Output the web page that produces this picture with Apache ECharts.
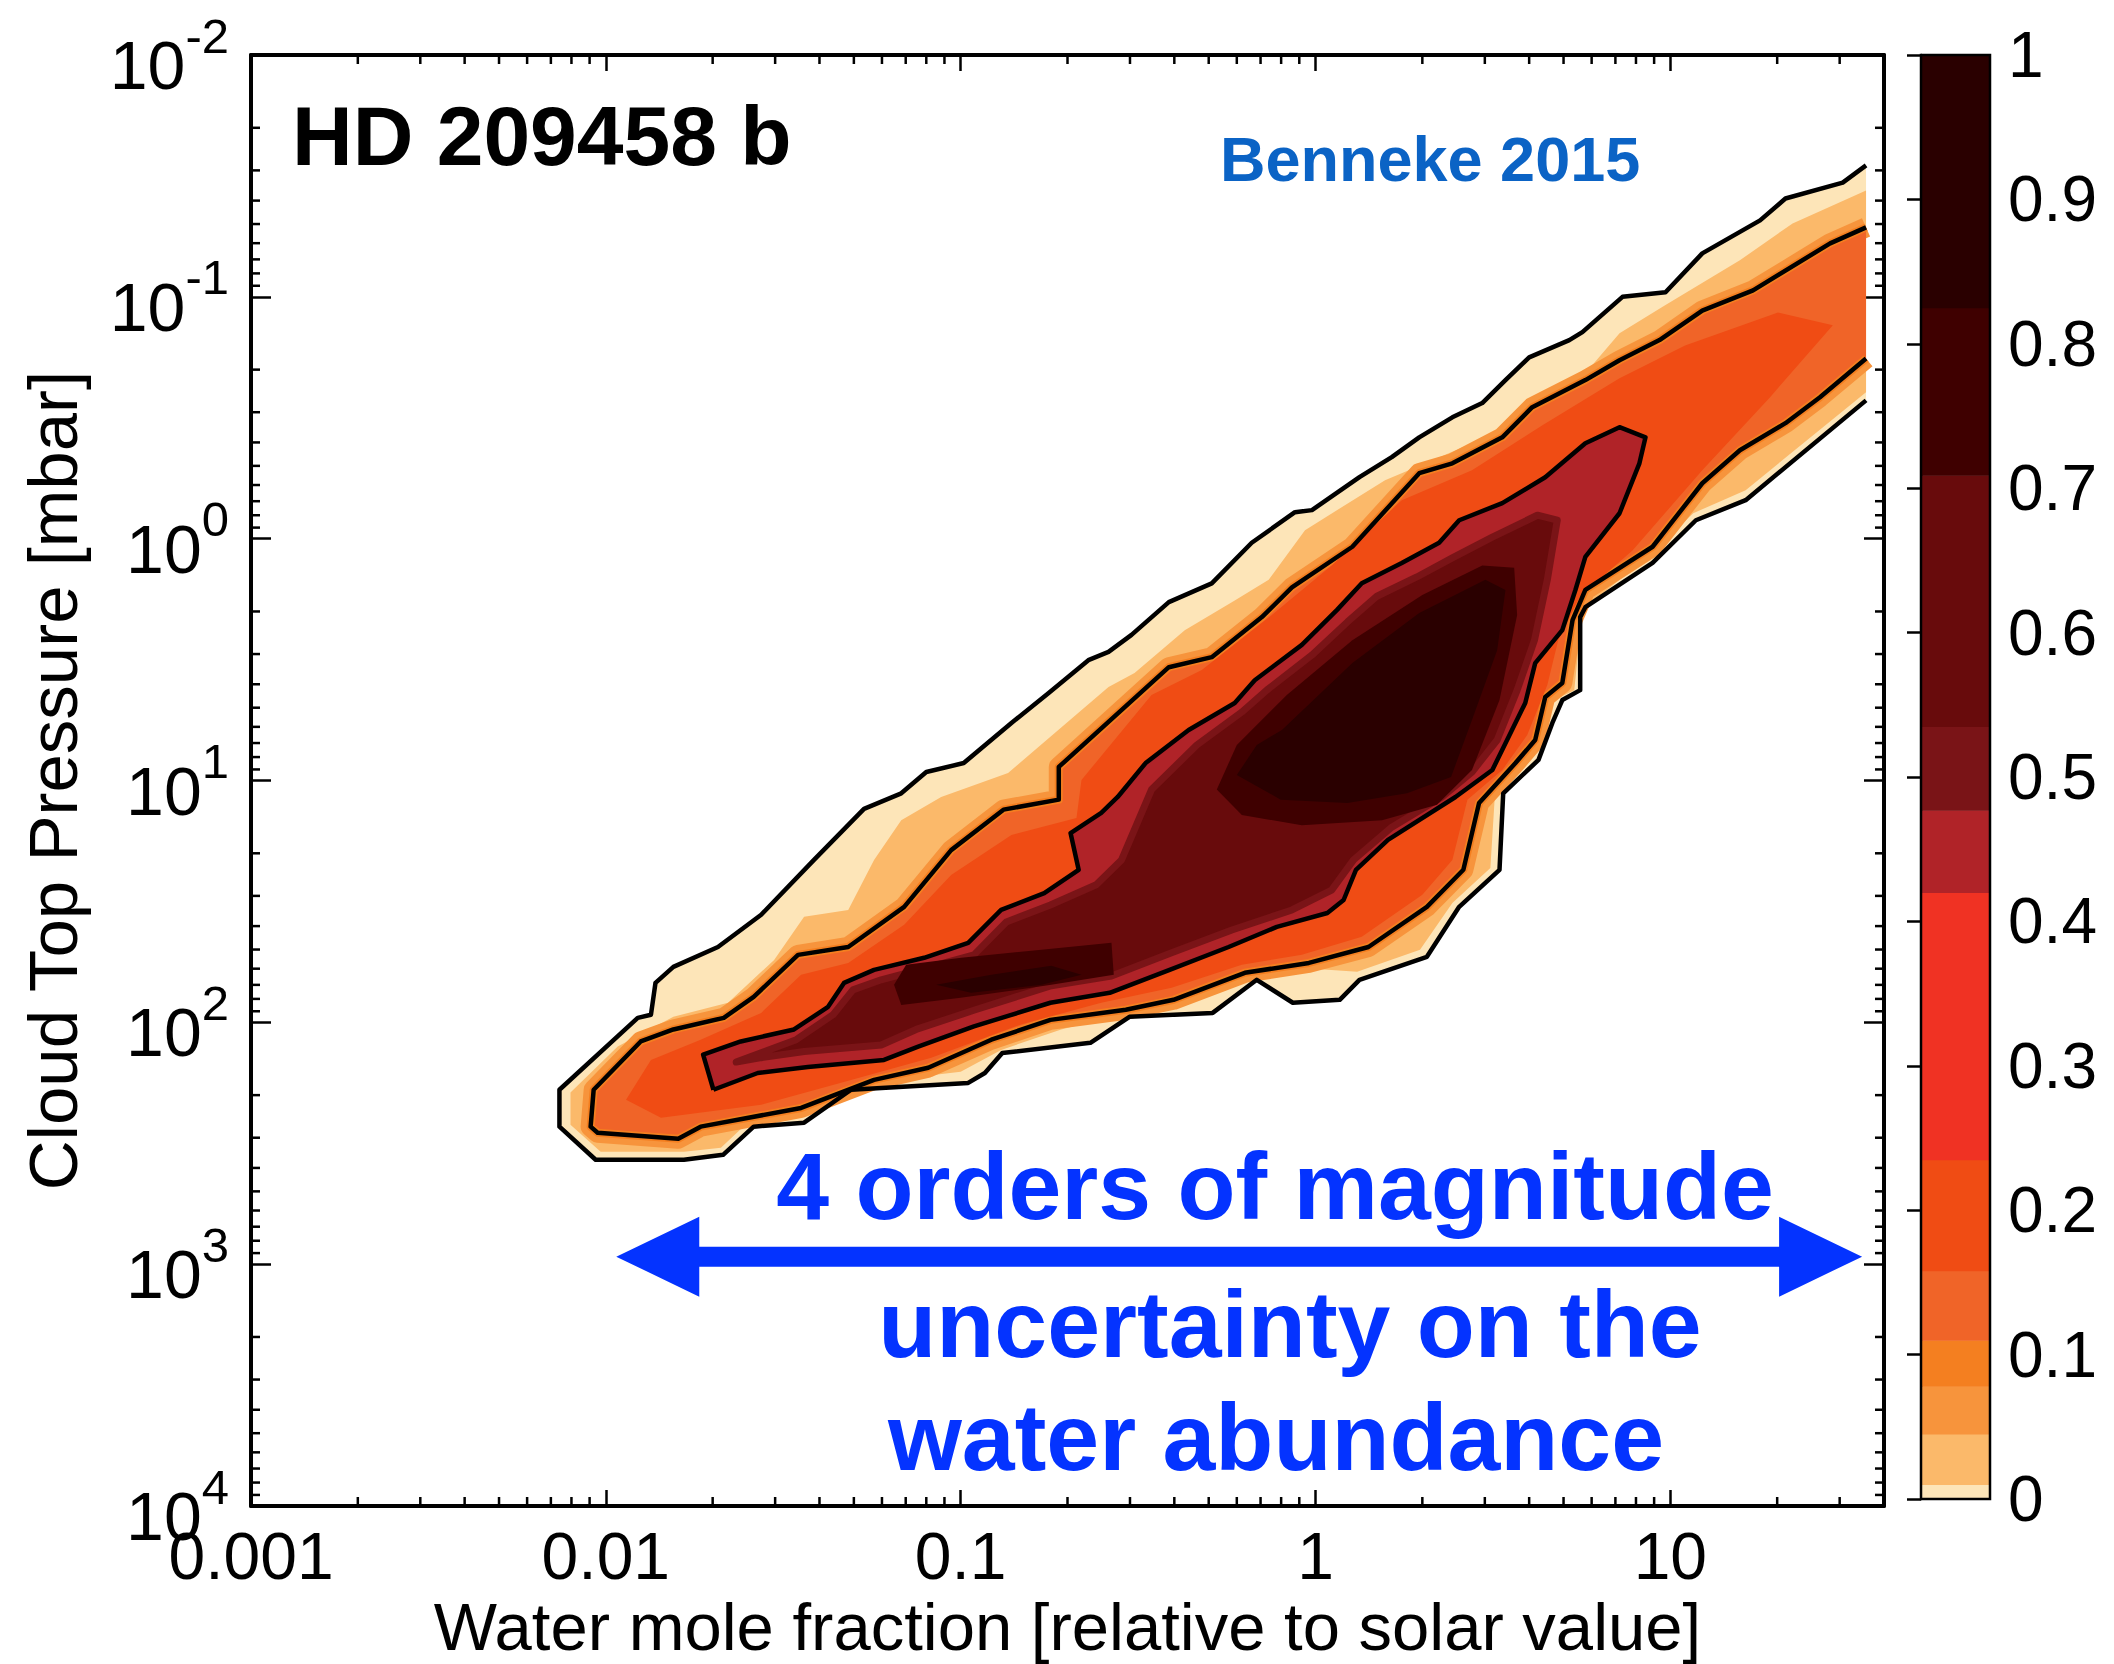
<!DOCTYPE html>
<html><head><meta charset="utf-8">
<script src="https://cdn.jsdelivr.net/npm/echarts@6/dist/echarts.min.js"></script>
<style>html,body{margin:0;padding:0;background:#fff}#c{width:2114px;height:1664px}</style>
</head><body><div id="c"></div>
<script>
// ---------- DATA (water mole fraction [x solar], cloud-top pressure [mbar]) ----------
const xTickValues = [0.001, 0.01, 0.1, 1, 10];
const yTickValues = [0.01, 0.1, 1, 10, 100, 1000, 10000];

// outermost contour (lowest probability level) : upper edge left->right, lower edge right->left
const outerUpper = [[0.0074,270],[0.0074,190],[0.0123,95.8],[0.0134,93],[0.0138,68.7],[0.0155,59],[0.0207,48.8],[0.0274,35.9],[0.0386,21.3],[0.0534,13.1],[0.068,11.3],[0.080,9.22],[0.102,8.47],[0.139,5.78],[0.177,4.35],[0.229,3.18],[0.261,2.94],[0.303,2.50],[0.386,1.83],[0.51,1.53],[0.661,1.04],[0.875,0.777],[0.977,0.762],[1.33,0.557],[1.64,0.46],[1.96,0.381],[2.43,0.315],[2.95,0.275],[3.43,0.221],[4.00,0.178],[5.19,0.151],[5.65,0.140],[7.33,0.10],[9.69,0.0958],[12.3,0.0661],[17.9,0.0483],[21.1,0.0392],[30.6,0.0337],[35.6,0.0286]];
const outerLower = [[35.6,0.268],[16.3,0.693],[11.8,0.839],[8.91,1.26],[5.76,1.92],[5.57,2.11],[5.57,4.23],[4.96,4.65],[4.65,5.78],[4.25,8.22],[3.38,11.3],[3.30,23.4],[2.54,33.3],[2.06,53.6],[1.33,66.7],[1.17,80.7],[0.863,83],[0.683,66.7],[0.513,91.4],[0.299,94.9],[0.232,121.5],[0.131,134],[0.117,162],[0.105,178],[0.0491,190],[0.0362,260],[0.0261,270],[0.0214,353],[0.0166,370],[0.00936,370]];

// second filled level (light orange)
const lightUpper = [[0.00795,195],[0.0108,126],[0.0155,94.9],[0.0221,83],[0.0298,55.2],[0.0362,36.6],[0.0482,34.3],[0.057,21.3],[0.068,14.6],[0.0881,11.7],[0.136,9.31],[0.261,4.11],[0.309,3.59],[0.428,2.39],[0.592,1.80],[0.738,1.48],[0.934,0.922],[1.57,0.573],[2.04,0.488],[3.36,0.356],[4.16,0.26],[5.76,0.207],[7.19,0.1415],[9.51,0.11],[15.7,0.0706],[22.1,0.0497],[35.6,0.0363]];
const lightLower = [[35.6,0.248],[16.3,0.63],[11.6,0.785],[8.62,1.19],[5.65,1.97],[5.36,4.23],[4.71,4.65],[4.08,8.0],[3.21,10.9],[3.11,23],[2.43,32.1],[1.97,50.1],[1.31,61.8],[0.915,59.6],[0.62,64],[0.398,84.7],[0.292,91.4],[0.192,107],[0.13,130],[0.1,160],[0.0491,181],[0.0355,241],[0.0256,253],[0.0211,330],[0.0166,343],[0.00967,343],[0.00795,265]];

// middle contour line
const middleUpper = [[0.00906,270],[0.00924,190],[0.01254,120],[0.0155,107],[0.0215,95.8],[0.0261,78.5],[0.0348,52.6],[0.0482,48.8],[0.0693,33.3],[0.094,19.4],[0.132,13.2],[0.189,12.0],[0.189,8.79],[0.386,3.40],[0.51,3.09],[0.706,2.11],[0.858,1.59],[1.27,1.08],[1.96,0.536],[2.43,0.488],[3.36,0.381],[4.08,0.286],[5.76,0.221],[7.19,0.183],[9.32,0.151],[12.3,0.114],[17.1,0.094],[28.2,0.0601],[35.6,0.0516]];
const middleLower = [[35.6,0.18],[26.4,0.26],[21.1,0.333],[15.7,0.431],[12.3,0.59],[8.91,1.08],[5.76,1.63],[5.30,2.17],[4.96,3.95],[4.44,4.52],[4.16,6.80],[3.66,8.47],[2.89,12.4],[2.61,23.4],[2.06,33.3],[1.41,48.8],[0.958,56.8],[0.632,62.4],[0.398,80.7],[0.292,88.7],[0.179,97.7],[0.122,118],[0.081,154],[0.057,173],[0.0355,226],[0.0185,270],[0.016,303],[0.00948,286]];

// core of the orange-red level
const coreOrange = [[28.7,0.131],[20.1,0.116],[11.0,0.159],[7.19,0.217],[4.36,0.34],[2.76,0.521],[1.75,0.693],[1.11,1.29],[0.753,2.07],[0.478,3.49],[0.345,4.43],[0.219,9.95],[0.212,14.3],[0.139,16.8],[0.094,24.6],[0.0693,39.5],[0.0482,56.8],[0.0355,63.6],[0.0274,91.4],[0.0185,118],[0.0134,143],[0.0114,209],[0.0143,248],[0.0274,219],[0.0491,173],[0.0826,140],[0.148,102],[0.249,83],[0.393,72],[0.62,57.8],[0.915,52.6],[1.35,44.3],[2.0,29.7],[2.43,21.3],[2.68,12.0],[3.36,9.05],[3.95,6.49],[4.50,4.03],[4.83,2.63],[5.57,1.73],[7.82,1.12],[12.3,0.521],[19.1,0.26]];

// inner contour line (closed)
const innerContour = [[0.0201,190],[0.0188,136],[0.024,120],[0.0339,107],[0.0423,86.3],[0.0469,68.7],[0.057,60.7],[0.0789,54.1],[0.105,46.9],[0.130,34.3],[0.172,29.2],[0.215,23.4],[0.204,16.5],[0.249,13.6],[0.277,11.7],[0.332,8.47],[0.439,6.18],[0.592,4.78],[0.674,3.85],[0.915,2.75],[1.15,1.97],[1.35,1.53],[1.75,1.26],[2.23,1.04],[2.54,0.839],[3.36,0.713],[4.44,0.557],[5.76,0.403],[7.19,0.346],[8.51,0.381],[8.18,0.488],[7.19,0.785],[5.76,1.19],[5.40,1.63],[4.96,2.39],[4.16,3.27],[3.90,4.78],[3.15,9.05],[2.48,11.7],[1.60,17.6],[1.30,23.4],[1.20,31.2],[1.08,35.3],[0.778,40.3],[0.569,48.8],[0.388,60.7],[0.263,75.5],[0.179,83],[0.109,104],[0.0759,126],[0.0608,143],[0.0371,153],[0.0268,162]];

// dark red level inside the inner contour
const darkRed = [[0.0233,146],[0.0344,118],[0.0437,93],[0.0497,73.4],[0.0597,66.7],[0.080,59.6],[0.109,52.6],[0.1345,38.5],[0.179,32.7],[0.241,27.0],[0.284,21.3],[0.345,10.9],[0.463,7.13],[0.62,5.21],[0.729,4.23],[0.977,3.03],[1.23,2.21],[1.49,1.73],[1.93,1.44],[2.43,1.20],[3.15,0.986],[4.22,0.80],[4.80,0.839],[4.50,1.48],[4.14,2.63],[3.70,4.23],[3.25,6.80],[2.76,9.22],[2.27,11.7],[1.64,15.6],[1.28,21.3],[1.11,28.4],[0.858,34.3],[0.581,41.5],[0.393,51.6],[0.266,64.3],[0.18,70.6],[0.11,88.7],[0.0749,107],[0.0597,124],[0.0362,132],[0.0274,140]];

// highest-probability cores
const peakOuter = [[0.527,10.9],[0.60,7.13],[0.83,4.43],[1.27,2.63],[2.0,1.71],[2.95,1.29],[3.63,1.32],[3.70,2.07],[3.30,4.65],[2.76,9.05],[2.20,12.6],[1.54,14.6],[0.915,15.3],[0.62,13.9]];
const peakInner = [[0.804,6.18],[1.27,3.27],[1.96,2.03],[3.01,1.48],[3.43,1.63],[3.25,2.89],[2.76,5.62],[2.41,9.67],[1.81,11.3],[1.23,12.4],[0.798,12.0],[0.60,9.49],[0.683,7.13]];
const smallPeakOuter = [[0.0649,70],[0.0702,57.8],[0.1004,54.1],[0.169,50.1],[0.266,46.9],[0.27,63.6],[0.18,70],[0.1,79.2],[0.068,84.7]];
const smallPeakInner = [[0.0853,70],[0.122,63.6],[0.18,58.4],[0.219,63.6],[0.169,70],[0.107,75.5]];

// arrow annotation end points
const arrowFrom = [0.0107, 931];
const arrowTo = [34.7, 931];

// colour bar
const colorLevels = [0, 0.01, 0.045, 0.078, 0.11, 0.158, 0.235, 0.42, 0.477, 0.535, 0.709, 0.825, 1];
const colorBands = ['#fde5b8','#fbb96a','#f7943c','#f47f20','#f06428','#f04c14','#f03223','#b02328','#7a1417','#680b0c','#3f0000','#2a0000'];

// ---------- CHART ----------
const FONT = "'Liberation Sans', Arial, Helvetica, sans-serif";
const chart = echarts.init(document.getElementById('c'), null, {renderer: 'svg', width: 2114, height: 1664});

function isPow10(v) { const l = Math.log10(v); return Math.abs(l - Math.round(l)) < 1e-6; }

function shapeSeries(pts, style, closed) {
  return {
    type: 'custom', coordinateSystem: 'cartesian2d', xAxisIndex: 0, yAxisIndex: 0,
    silent: true, animation: false, clip: true,
    data: [pts[0]],
    renderItem: function (params, api) {
      return {
        type: closed ? 'polygon' : 'polyline',
        shape: { points: pts.map(function (p) { return api.coord(p); }) },
        style: Object.assign({}, style)
      };
    }
  };
}

const minorX = [];
for (let n = -3; n <= 1; n++) for (let k = 2; k <= 9; k++) { const v = k * Math.pow(10, n); if (v < 40) minorX.push(v); }
const minorY = [];
for (let n = -2; n <= 3; n++) for (let k = 2; k <= 9; k++) minorY.push(k * Math.pow(10, n));

const outerPoly = outerUpper.concat(outerLower);
const outerLine = outerLower.concat(outerUpper);
const lightPoly = lightUpper.concat(lightLower);
const middlePoly = middleUpper.concat(middleLower);
const middleLine = middleLower.concat(middleUpper);

const lineStyleBlack = { fill: 'none', stroke: '#000', lineWidth: 4.5, lineJoin: 'round' };

const series = [
  shapeSeries(outerPoly, { fill: colorBands[0] }, true),
  shapeSeries(lightPoly, { fill: colorBands[1] }, true),
  shapeSeries(middleLine, { fill: 'none', stroke: colorBands[2], lineWidth: 20, lineJoin: 'round' }, false),
  shapeSeries(middlePoly, { fill: colorBands[4] }, true),
  shapeSeries(middleLine, { fill: 'none', stroke: colorBands[3], lineWidth: 8, lineJoin: 'round' }, false),
  shapeSeries(coreOrange, { fill: colorBands[5] }, true),
  shapeSeries(innerContour, { fill: colorBands[7] }, true),
  shapeSeries(darkRed, { fill: colorBands[9], stroke: colorBands[8], lineWidth: 7, lineJoin: 'round' }, true),
  shapeSeries(peakOuter, { fill: colorBands[10] }, true),
  shapeSeries(peakInner, { fill: colorBands[11] }, true),
  shapeSeries(smallPeakOuter, { fill: colorBands[10] }, true),
  shapeSeries(smallPeakInner, { fill: colorBands[11] }, true),
  shapeSeries(outerLine, lineStyleBlack, false),
  shapeSeries(middleLine, lineStyleBlack, false),
  shapeSeries(innerContour.concat([innerContour[0]]), lineStyleBlack, false),
  // double-headed arrow
  {
    type: 'custom', xAxisIndex: 0, yAxisIndex: 0, silent: true, clip: false,
    data: [arrowFrom, arrowTo],
    renderItem: function (params, api) {
      if (params.dataIndex !== 0) return null;
      const a = api.coord(arrowFrom), b = api.coord(arrowTo);
      const y = a[1], hl = 83, hh = 40, sh = 10;
      return {
        type: 'polygon',
        shape: { points: [[a[0], y], [a[0] + hl, y - hh], [a[0] + hl, y - sh], [b[0] - hl, y - sh], [b[0] - hl, y - hh], [b[0], y], [b[0] - hl, y + hh], [b[0] - hl, y + sh], [a[0] + hl, y + sh], [a[0] + hl, y + hh]] },
        style: { fill: '#0433ff' }
      };
    }
  },
  // log minor ticks on all four sides
  {
    type: 'custom', xAxisIndex: 0, yAxisIndex: 0, silent: true, clip: false,
    data: [[1, 1]],
    renderItem: function (params, api) {
      const cs = params.coordSys, ch = [], L = 9;
      const st = { stroke: '#000', lineWidth: 2.5 };
      minorX.forEach(function (v) {
        const x = api.coord([v, 1])[0];
        ch.push({ type: 'line', shape: { x1: x, y1: cs.y + cs.height, x2: x, y2: cs.y + cs.height - L }, style: st });
        ch.push({ type: 'line', shape: { x1: x, y1: cs.y, x2: x, y2: cs.y + L }, style: st });
      });
      minorY.forEach(function (v) {
        const y = api.coord([1, v])[1];
        ch.push({ type: 'line', shape: { x1: cs.x, y1: y, x2: cs.x + L, y2: y }, style: st });
        ch.push({ type: 'line', shape: { x1: cs.x + cs.width, y1: y, x2: cs.x + cs.width - L, y2: y }, style: st });
      });
      return { type: 'group', children: ch };
    }
  },
  // colour bar bands
  {
    type: 'custom', xAxisIndex: 2, yAxisIndex: 2, silent: true,
    data: colorBands.map(function (c, i) { return [0, colorLevels[i], colorLevels[i + 1], i]; }),
    encode: { x: 0, y: [1, 2] },
    renderItem: function (params, api) {
      const p0 = api.coord([0, api.value(1)]), p1 = api.coord([1, api.value(2)]);
      return { type: 'rect', shape: { x: p0[0], y: p1[1], width: p1[0] - p0[0], height: p0[1] - p1[1] + 0.5 }, style: { fill: colorBands[api.value(3)] } };
    }
  },
  // colour bar frame
  {
    type: 'custom', xAxisIndex: 2, yAxisIndex: 2, silent: true,
    data: [[0, 0]],
    renderItem: function (params, api) {
      const p0 = api.coord([0, 0]), p1 = api.coord([1, 1]);
      return { type: 'rect', shape: { x: p0[0], y: p1[1], width: p1[0] - p0[0], height: p0[1] - p1[1] }, style: { fill: 'none', stroke: '#000', lineWidth: 2.5 } };
    }
  }
];

const axisLineStyle = { show: true, lineStyle: { color: '#000', width: 4 } };
const xLabelFmt = function (v) {
  if (!isPow10(v)) return '';
  const e = Math.round(Math.log10(v));
  return e >= 0 ? String(Math.round(v)) : v.toFixed(-e);
};
const yLabelFmt = function (v) {
  if (!isPow10(v)) return '';
  return '{h| }{b|10}{s|' + Math.round(Math.log10(v)) + '}';
};
const yRich = {
  h: { fontSize: 1, lineHeight: 88 },
  b: { fontSize: 68, fontFamily: FONT, color: '#000', lineHeight: 68, verticalAlign: 'bottom' },
  s: { fontSize: 49, fontFamily: FONT, color: '#000', lineHeight: 49, verticalAlign: 'top' }
};

const option = {
  backgroundColor: '#ffffff',
  animation: false,
  grid: [
    { left: 251, top: 55, width: 1633, height: 1451, containLabel: false, outerBoundsMode: 'none' },
    { left: 1921, top: 55, width: 69, height: 1444, containLabel: false, outerBoundsMode: 'none' }
  ],
  xAxis: [
    {
      gridIndex: 0, type: 'log', logBase: 10, min: 0.001, max: 40, position: 'bottom',
      name: 'Water mole fraction [relative to solar value]', nameLocation: 'middle', nameGap: 87, nameMoveOverlap: false,
      nameTextStyle: { fontSize: 67, fontFamily: FONT, color: '#000' },
      axisLine: axisLineStyle,
      axisTick: { show: true, inside: true, length: 16, lineStyle: { color: '#000', width: 2.5 } },
      axisLabel: { fontSize: 66, fontFamily: FONT, color: '#000', margin: 17, formatter: xLabelFmt, hideOverlap: false },
      splitLine: { show: false }, minorTick: { show: false }
    },
    {
      gridIndex: 0, type: 'log', logBase: 10, min: 0.001, max: 40, position: 'top',
      axisLine: axisLineStyle,
      axisTick: { show: true, inside: true, length: 16, lineStyle: { color: '#000', width: 2.5 } },
      axisLabel: { show: false }, splitLine: { show: false }
    },
    { gridIndex: 1, type: 'value', min: 0, max: 1, show: false, splitLine: { show: false } }
  ],
  yAxis: [
    {
      gridIndex: 0, type: 'log', logBase: 10, min: 0.01, max: 10000, inverse: true, position: 'left',
      name: 'Cloud Top Pressure [mbar]', nameLocation: 'middle', nameGap: 163, nameRotate: 90, nameMoveOverlap: false,
      nameTextStyle: { fontSize: 69, fontFamily: FONT, color: '#000' },
      axisLine: axisLineStyle,
      axisTick: { show: true, inside: true, length: 20, lineStyle: { color: '#000', width: 2.5 } },
      axisLabel: { margin: 22, formatter: yLabelFmt, rich: yRich, hideOverlap: false },
      splitLine: { show: false }
    },
    {
      gridIndex: 0, type: 'log', logBase: 10, min: 0.01, max: 10000, inverse: true, position: 'right',
      axisLine: axisLineStyle,
      axisTick: { show: true, inside: true, length: 20, lineStyle: { color: '#000', width: 2.5 } },
      axisLabel: { show: false }, splitLine: { show: false }
    },
    {
      gridIndex: 1, type: 'value', min: 0, max: 1, interval: 0.1, position: 'right',
      axisLine: { show: true, lineStyle: { color: '#000', width: 2.5 } },
      axisTick: { show: true, inside: true, length: 14, lineStyle: { color: '#000', width: 2.5 } },
      axisLabel: {
        fontSize: 64, fontFamily: FONT, color: '#000', margin: 18, hideOverlap: false,
        formatter: function (v) { if (Math.abs(v) < 1e-9) return '0'; if (Math.abs(v - 1) < 1e-9) return '1'; return v.toFixed(1); }
      },
      splitLine: { show: false }
    }
  ],
  series: series,
  graphic: [
    { type: 'text', x: 292, y: 136, z: 100, style: { text: 'HD 209458 b', fontSize: 84, fontWeight: 'bold', fontFamily: FONT, fill: '#000', textVerticalAlign: 'middle', verticalAlign: 'middle' } },
    { type: 'text', x: 1220, y: 159, z: 100, style: { text: 'Benneke 2015', fontSize: 63, fontWeight: 'bold', fontFamily: FONT, fill: '#0b63c5', textVerticalAlign: 'middle', verticalAlign: 'middle' } },
    { type: 'text', x: 1275, y: 1186, z: 100, style: { text: '4 orders of magnitude', fontSize: 95, fontWeight: 'bold', fontFamily: FONT, fill: '#0433ff', textAlign: 'center', align: 'center', textVerticalAlign: 'middle', verticalAlign: 'middle' } },
    { type: 'text', x: 1290, y: 1324, z: 100, style: { text: 'uncertainty on the', fontSize: 95, fontWeight: 'bold', fontFamily: FONT, fill: '#0433ff', textAlign: 'center', align: 'center', textVerticalAlign: 'middle', verticalAlign: 'middle' } },
    { type: 'text', x: 1276, y: 1437, z: 100, style: { text: 'water abundance', fontSize: 95, fontWeight: 'bold', fontFamily: FONT, fill: '#0433ff', textAlign: 'center', align: 'center', textVerticalAlign: 'middle', verticalAlign: 'middle' } }
  ]
};
chart.setOption(option);
</script>
</body></html>
